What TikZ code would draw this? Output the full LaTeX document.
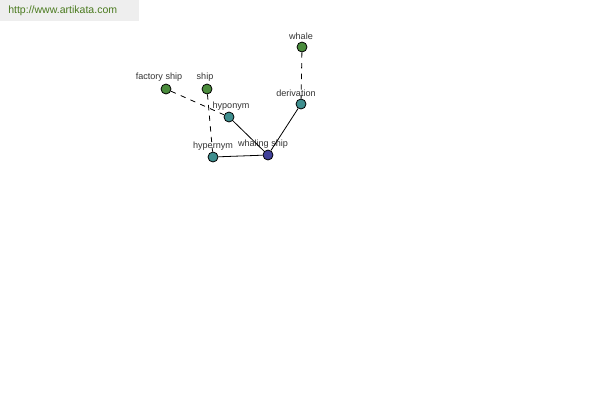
\documentclass[tikz,border=0pt]{standalone}
\usepackage{fontspec}
\setmainfont{Liberation Sans}
\definecolor{nodegreen}{HTML}{4A8C3C}
\definecolor{nodeteal}{HTML}{3F8F8F}
\definecolor{nodeblue}{HTML}{40409A}
\definecolor{banner}{HTML}{EEEEEE}
\definecolor{bannertext}{HTML}{4A7A1E}
\definecolor{labeltext}{HTML}{333333}
\tikzset{
  vert/.style={circle, draw=black, line width=0.6pt, minimum size=7.5pt, inner sep=0pt},
  gv/.style={vert, fill=nodegreen},
  tv/.style={vert, fill=nodeteal},
  bv/.style={vert, fill=nodeblue},
  lbl/.style={font=\fontsize{6.8}{7.5}\selectfont, text=labeltext, inner sep=0pt},
  rel/.style={line width=0.6pt},
  reldash/.style={line width=0.6pt, dash pattern=on 4pt off 4pt},
}
\begin{document}
\begin{tikzpicture}[x=0.75pt,y=-0.75pt]
\useasboundingbox (0,0) rectangle (600,400);
\fill[banner] (0,0) rectangle (139,21);
\node[anchor=west, font=\fontsize{7.9}{9}\selectfont, text=bannertext, inner sep=0pt] (url) at (8,11) {http://www.artikata.com};
% labels
\node[lbl] (lwhale) at (301,36) {whale};
\node[lbl] (lderiv) at (296,93) {derivation};
\node[lbl] (lfact) at (159,77) {factory ship};
\node[lbl] (lship) at (205,77) {ship};
\node[lbl] (lhypo) at (231,106) {hyponym};
\node[lbl] (lhyper) at (213,146) {hypernym};
\node[lbl] (lwhaling) at (263,144) {whaling ship};
% vertices
\node[gv] (whale) at (302,47) {};
\node[tv] (deriv) at (301,104) {};
\node[gv] (fact) at (166,89) {};
\node[gv] (ship) at (207,89) {};
\node[tv] (hypo) at (229,117) {};
\node[tv] (hyper) at (213,157) {};
\node[bv] (whaling) at (268,155) {};
% connectors
\draw[reldash] (whale) -- (deriv);
\draw[reldash] (fact) -- (hypo);
\draw[reldash] (ship) -- (hyper);
\draw[rel] (hypo) -- (whaling);
\draw[rel] (hyper) -- (whaling);
\draw[rel] (deriv) -- (whaling);
\end{tikzpicture}
\end{document}
